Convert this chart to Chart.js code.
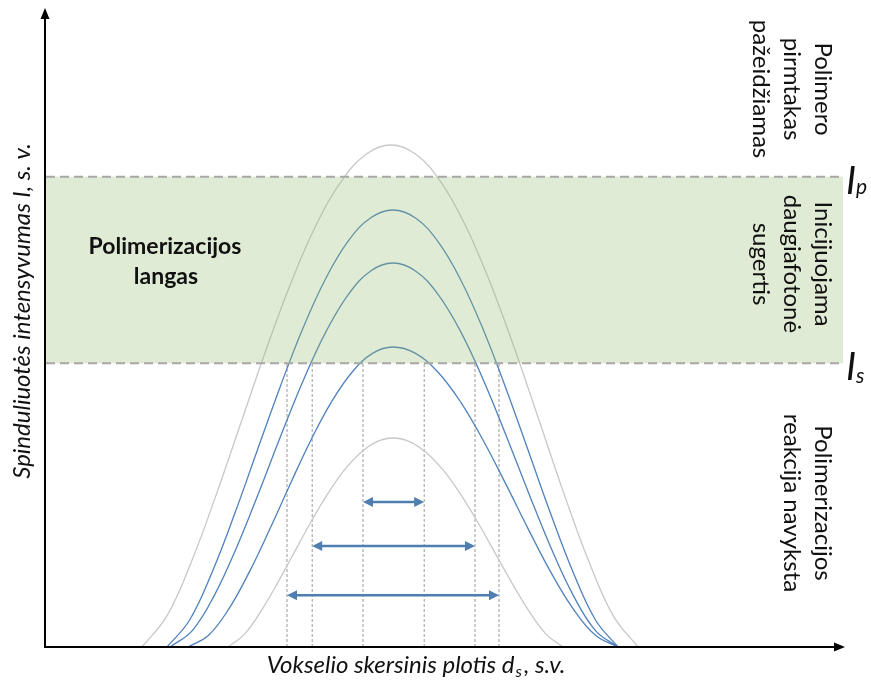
<!DOCTYPE html>
<html lang="lt">
<head>
<meta charset="UTF-8">
<title>Polimerizacijos langas</title>
<script src="https://cdn.jsdelivr.net/npm/chart.js"></script>
<style>
  html, body { margin: 0; padding: 0; background: #fff; }
  #chart { display: block; }
</style>
</head>
<body>
<canvas id="chart" width="871" height="683"></canvas>
<script>
  // intensity profiles, [x, intensity] in arbitrary units (0..100)
  const grayHigh = [[12.13, 0], [15.24, 4.87], [18.35, 13.49], [21.46, 24.04], [24.58, 35.4], [27.69, 46.71],
                    [30.8, 57.17], [33.91, 66.07], [37.03, 72.86], [40.14, 77.12], [43.25, 78.56],
                    [46.34, 77.12], [49.43, 72.86], [52.51, 66.07], [55.6, 57.17], [58.69, 46.71],
                    [61.78, 35.4], [64.86, 24.04], [67.95, 13.49], [71.04, 4.87], [74.13, 0]];
  const blueHigh = [[15.25, 0], [18.08, 4.23], [20.9, 11.75], [23.73, 20.92], [26.55, 30.82], [29.38, 40.66],
                    [32.2, 49.77], [35.03, 57.52], [37.85, 63.43], [40.68, 67.13], [43.5, 68.39],
                    [46.31, 67.13], [49.13, 63.43], [51.94, 57.52], [54.75, 49.77], [57.56, 40.66],
                    [60.38, 30.82], [63.19, 20.92], [66.0, 11.75], [68.81, 4.23], [71.63, 0]];
  const blueMid = [[15.63, 0], [18.41, 2.57], [21.2, 8.16], [23.99, 15.7], [26.78, 24.35], [29.56, 33.34],
                   [32.35, 41.91], [35.14, 49.39], [37.93, 55.18], [40.71, 58.85], [43.5, 60.09],
                   [46.31, 58.85], [49.13, 55.18], [51.94, 49.39], [54.75, 41.91], [57.56, 33.34],
                   [60.38, 24.35], [63.19, 15.7], [66.0, 8.16], [68.81, 2.57], [71.63, 0]];
  const blueLow = [[17.88, 0], [20.44, 1.83], [23.0, 6.01], [25.56, 11.79], [28.13, 18.53], [30.69, 25.6],
                   [33.25, 32.4], [35.81, 38.36], [38.38, 43.0], [40.94, 45.95], [43.5, 46.95],
                   [46.31, 45.95], [49.13, 43.0], [51.94, 38.36], [54.75, 32.4], [57.56, 25.6],
                   [60.38, 18.53], [63.19, 11.79], [66.0, 6.01], [68.81, 1.83], [71.63, 0]];
  const grayLow = [[22.88, 0], [24.94, 2.02], [27.0, 5.62], [29.06, 10.0], [31.13, 14.74], [33.19, 19.45],
                   [35.25, 23.8], [37.31, 27.51], [39.38, 30.33], [41.44, 32.11], [43.5, 32.71],
                   [45.63, 32.11], [47.75, 30.33], [49.88, 27.51], [52.0, 23.8], [54.13, 19.45],
                   [56.25, 14.74], [58.38, 10.0], [60.5, 5.62], [62.63, 2.02], [64.75, 0]];

  // thresholds I_p and I_s
  const Ip = 73.6;
  const Is = 44.4;

  // where the blue profiles cross I_s
  const crossX = [30.25, 33.4, 39.75, 47.4, 53.75, 56.75];

  // voxel width arrows
  const arrowFrom = [39.75, 33.4, 30.25];
  const arrowTo = [47.4, 53.75, 56.75];
  const arrowY = [22.7, 15.8, 8.1];

  const toPts = arr => arr.map(p => ({ x: p[0], y: p[1] }));

  const curve = (data, color) => ({
    data: toPts(data),
    borderColor: color,
    borderWidth: 1.3,
    pointRadius: 0,
    tension: 0.4,
    fill: false
  });

  const datasets = [
    curve(grayHigh, '#c8c8c8'),
    curve(grayLow, '#c8c8c8'),
    curve(blueHigh, '#4f81bd'),
    curve(blueMid, '#4f81bd'),
    curve(blueLow, '#4f81bd')
  ];
  crossX.forEach(cx => {
    datasets.push({
      data: [{ x: cx, y: 0 }, { x: cx, y: Is }],
      borderColor: '#9a9a9a',
      borderWidth: 1,
      borderDash: [3, 2],
      pointRadius: 0
    });
  });

  const FONT = 'Lato, "Open Sans", sans-serif';

  function arrowHead(ctx, x, y, dir) {
    ctx.beginPath();
    ctx.moveTo(x, y);
    ctx.lineTo(x - dir * 10, y - 5);
    ctx.lineTo(x - dir * 10, y + 5);
    ctx.closePath();
    ctx.fill();
  }

  function rotatedLines(ctx, lines, cx, cy, gap) {
    lines.forEach((t, i) => {
      ctx.save();
      ctx.translate(cx - i * gap, cy);
      ctx.rotate(Math.PI / 2);
      ctx.fillText(t, 0, 0);
      ctx.restore();
    });
  }

  const decorations = {
    id: 'decorations',
    afterDatasetsDraw(chart) {
      const { ctx, chartArea: a, scales: { x, y } } = chart;
      const yp = y.getPixelForValue(Ip);
      const ys = y.getPixelForValue(Is);
      ctx.save();

      // polymerization window
      ctx.fillStyle = 'rgba(148,188,112,0.3)';
      ctx.fillRect(a.left + 1, yp, a.right - a.left - 3, ys - yp);
      ctx.strokeStyle = '#a8a8a8';
      ctx.lineWidth = 2;
      ctx.setLineDash([9, 5]);
      [yp, ys].forEach(py => {
        ctx.beginPath();
        ctx.moveTo(a.left + 1, py);
        ctx.lineTo(a.right - 2, py);
        ctx.stroke();
      });
      ctx.setLineDash([]);

      // width arrows
      ctx.strokeStyle = '#4f7fb0';
      ctx.fillStyle = '#4f7fb0';
      ctx.lineWidth = 2.5;
      arrowY.forEach((v, i) => {
        const py = y.getPixelForValue(v);
        const x1 = x.getPixelForValue(arrowFrom[i]);
        const x2 = x.getPixelForValue(arrowTo[i]);
        ctx.beginPath();
        ctx.moveTo(x1 + 6, py);
        ctx.lineTo(x2 - 6, py);
        ctx.stroke();
        arrowHead(ctx, x1, py, -1);
        arrowHead(ctx, x2, py, 1);
      });

      // axes
      ctx.strokeStyle = '#000';
      ctx.fillStyle = '#000';
      ctx.lineWidth = 2;
      ctx.beginPath();
      ctx.moveTo(a.left, a.top + 8);
      ctx.lineTo(a.left, a.bottom);
      ctx.lineTo(a.right - 8, a.bottom);
      ctx.stroke();
      ctx.beginPath();
      ctx.moveTo(a.left, a.top);
      ctx.lineTo(a.left - 4.5, a.top + 11);
      ctx.lineTo(a.left + 4.5, a.top + 11);
      ctx.closePath();
      ctx.fill();
      ctx.beginPath();
      ctx.moveTo(a.right, a.bottom);
      ctx.lineTo(a.right - 11, a.bottom - 4.5);
      ctx.lineTo(a.right - 11, a.bottom + 4.5);
      ctx.closePath();
      ctx.fill();

      // axis titles
      ctx.fillStyle = '#111';
      ctx.textBaseline = 'middle';
      ctx.textAlign = 'center';
      ctx.font = 'italic 24px ' + FONT;
      ctx.save();
      ctx.translate(22, 311);
      ctx.rotate(-Math.PI / 2);
      ctx.fillText('Spinduliuotės intensyvumas I, s. v.', 0, 0);
      ctx.restore();

      const p1 = 'Vokselio skersinis plotis d';
      const p3 = ', s.v.';
      ctx.textAlign = 'left';
      ctx.font = 'italic 24px ' + FONT;
      const w1 = ctx.measureText(p1).width;
      const w3 = ctx.measureText(p3).width;
      ctx.font = 'italic 16px ' + FONT;
      const w2 = ctx.measureText('s').width + 3;
      const tx = 416 - (w1 + w2 + w3) / 2;
      ctx.font = 'italic 24px ' + FONT;
      ctx.fillText(p1, tx, 665);
      ctx.font = 'italic 16px ' + FONT;
      ctx.fillText('s', tx + w1 + 1, 672);
      ctx.font = 'italic 24px ' + FONT;
      ctx.fillText(p3, tx + w1 + w2, 665);

      // window label
      ctx.textAlign = 'center';
      ctx.font = 'bold 23px ' + FONT;
      ctx.fillText('Polimerizacijos', 165, 247);
      ctx.fillText('langas', 166, 277);

      // side notes
      ctx.font = '24px ' + FONT;
      rotatedLines(ctx, ['Polimero', 'pirmtakas', 'pažeidžiamas'], 823, 89, 31);
      rotatedLines(ctx, ['Inicijuojama', 'daugiafotonė', 'sugertis'], 823, 264, 31);
      rotatedLines(ctx, ['Polimerizacijos', 'reakcija navyksta'], 823, 503, 31);

      // threshold labels
      ctx.textAlign = 'left';
      ctx.textBaseline = 'alphabetic';
      [[yp, 'p', 17], [ys, 's', 20]].forEach(([py, sub, dy]) => {
        ctx.font = 'italic 38px ' + FONT;
        ctx.fillText('I', 846, py + 17);
        ctx.font = 'italic 21px ' + FONT;
        ctx.fillText(sub, 856, py + dy);
      });

      ctx.restore();
    }
  };

  new Chart('chart', {
    type: 'line',
    data: { datasets },
    options: {
      responsive: false,
      animation: false,
      events: [],
      layout: { padding: { left: 45, top: 8, right: 26, bottom: 36 } },
      plugins: { legend: { display: false }, tooltip: { enabled: false } },
      scales: {
        x: { type: 'linear', min: 0, max: 100, display: false },
        y: { type: 'linear', min: 0, max: 100, display: false }
      }
    },
    plugins: [decorations]
  });
</script>
</body>
</html>
